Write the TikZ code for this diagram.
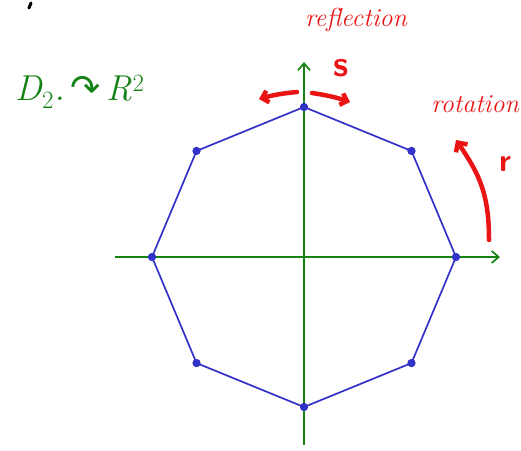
\documentclass[tikz,border=0pt]{standalone}
\usepackage{fontspec}
\newfontfamily\symfont{DejaVu Sans}
\usetikzlibrary{arrows.meta}
\definecolor{pen}{RGB}{235,20,20}
\definecolor{grn}{RGB}{20,130,20}
\definecolor{blu}{RGB}{50,50,200}
\tikzset{
  axis/.style={grn, line width=1.7pt, -{Straight Barb[length=7pt,width=12pt]}},
  side/.style={blu, line width=1.7pt},
  vtx/.style={circle, fill=blu, inner sep=0pt, minimum size=8pt},
  redpen/.style={pen, line width=4.5pt, line cap=round},
  redtext/.style={pen, font=\fontsize{26}{26}\selectfont\itshape},
  grntext/.style={grn, font=\fontsize{36}{36}\selectfont\itshape}
}
\begin{document}
\begin{tikzpicture}[x=1pt,y=-1pt]
\useasboundingbox (0,0) rectangle (521,450);
% axes
\coordinate (xs) at (115,257);
\coordinate (xe) at (500,257);
\coordinate (ys) at (304,445);
\coordinate (ye) at (304,62);
\draw[axis] (xs) -- (xe);
\draw[axis] (ys) -- (ye);
% octagon
\foreach \i/\a in {0/0,1/45,2/90,3/135,4/180,5/225,6/270,7/315}{
  \node[vtx] (v\i) at ({304+152*cos(\a)},{257-150*sin(\a)}) {};
}
\draw[side] (v0.center) -- (v1.center) -- (v2.center) -- (v3.center) -- (v4.center) -- (v5.center) -- (v6.center) -- (v7.center) -- cycle;
\foreach \i in {0,...,7}{\node[vtx] at (v\i) {};}
% reflection
\node[redtext] (refl) at (356,20) {reflection};
\node[pen, font=\fontsize{36}{36}\selectfont\bfseries\sffamily] (s) at (341,68) {s};
\coordinate (sl) at (259,99);
\coordinate (sm1) at (297,92);
\coordinate (sm2) at (312,93);
\coordinate (sr) at (350,102);
\draw[redpen, -{Straight Barb[length=6pt,width=12pt]}] (sm1) to[bend right=5] (sl);
\draw[redpen, -{Straight Barb[length=6pt,width=12pt]}] (sm2) to[bend left=5] (sr);
% rotation
\node[redtext, anchor=east, inner sep=1pt] (rot) at (520,104) {rotation};
\node[pen, font=\fontsize{32}{32}\selectfont\bfseries\sffamily] (r) at (505,164) {r};
\coordinate (ra) at (489,240);
\coordinate (rb) at (456,140);
\draw[redpen, -{Straight Barb[length=7pt,width=14pt]}] (ra) .. controls (489,195) and (480,175) .. (rb);
% group action
\node[grntext, anchor=west] (act) at (12,92) {D$_{2}$.\,{\symfont\upshape ↷}\,R$^2$};
% stray mark
\coordinate (m1) at (31,3);
\coordinate (m2) at (29,8);
\draw[line width=3pt, line cap=round] (m1) -- (m2);
\end{tikzpicture}
\end{document}
